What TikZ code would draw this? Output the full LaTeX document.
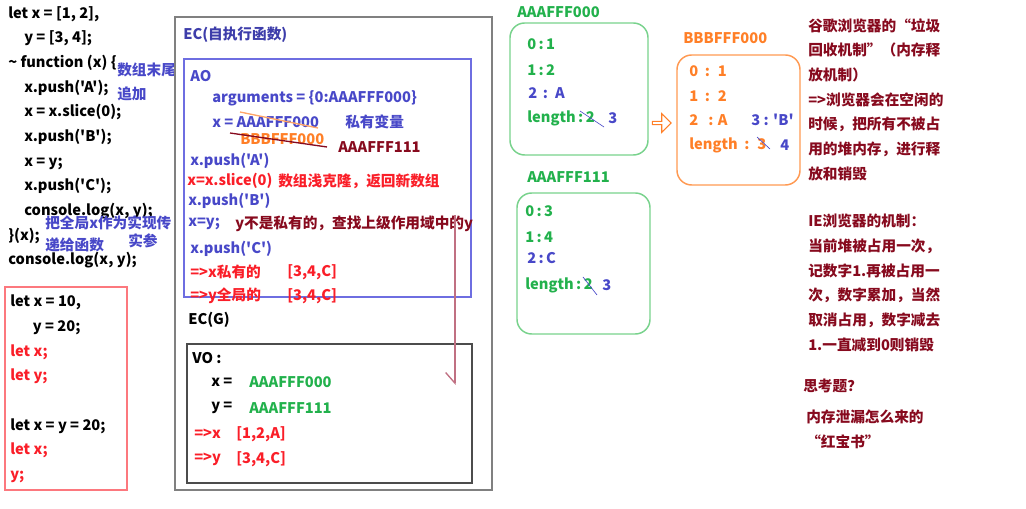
\documentclass[tikz,border=0pt]{standalone}
\usepackage{fontspec}
\newfontfamily\yh{Noto Sans CJK SC}
\usetikzlibrary{positioning,arrows.meta,shapes.arrows}
\definecolor{jsblue}{RGB}{72,72,200}
\definecolor{jsred}{RGB}{250,30,40}
\definecolor{jsdark}{RGB}{135,10,30}
\definecolor{jsgreen}{RGB}{34,177,76}
\definecolor{jsorange}{RGB}{255,127,39}
\definecolor{heapgreen}{RGB}{120,210,140}
\definecolor{aoline}{RGB}{110,110,225}
\definecolor{lookback}{RGB}{192,112,130}

\begin{document}
\begin{tikzpicture}[x=0.75pt,y=-0.75pt,
  font=\yh\bfseries\fontsize{11}{18.5}\selectfont,
  txt/.style={anchor=west,inner sep=0pt},
  blk/.style={anchor=north west,inner sep=0pt,align=left},
  heapbox/.style={draw=heapgreen,line width=1.1pt,rounded corners=11pt},
  strike/.style={jsblue,line width=0.5pt}]
\useasboundingbox (0,0) rectangle (1026,509);

% source code
\node [blk] (code) at (8,6) {let x = [1, 2],\\
\hspace*{12pt}y = [3, 4];\\
\textasciitilde\ function (x) \{\\
\hspace*{12pt}x.push('A');\\
\hspace*{12pt}x = x.slice(0);\\
\hspace*{12pt}x.push('B');\\
\hspace*{12pt}x = y;\\
\hspace*{12pt}x.push('C');\\
\hspace*{12pt}console.log(x, y);\\
\}(x);\\
console.log(x, y);};
\node [txt,jsblue] (pushnote) at (117,70) {数组末尾};
\node [txt,jsblue] (pushnote2) at (117,94) {追加};
\node [txt,jsblue] (argnote) at (45,223) {把全局x作为实现传};
\node [txt,jsblue] (argnote2) at (128,241) {实参};
\node [txt,jsblue] (argnote3) at (45,245) {递给函数};

% let examples
\draw [draw=jsred!60,line width=1.1pt] (5,287) rectangle (127,490);
\node [blk] (letcode) at (10,295) {let x = 10,\\
\hspace*{17pt}y = 20;\\
\textcolor{jsred}{let x;}\\
\textcolor{jsred}{let y;}\\
\mbox{}\\
let x = y = 20;\\
\textcolor{jsred}{let x;}\\
\textcolor{jsred}{y;}};

% execution contexts
\draw [draw=black!50,line width=1.1pt] (175,17) rectangle (492,490);
\node [txt,jsblue!85!black] (ectitle) at (183,35) {EC(自执行函数)};
\draw [draw=aoline,line width=0.8pt] (184,59) rectangle (471,297);
\node [txt,jsblue] (ao) at (190,76) {AO};
\node [txt,jsblue] (args) at (212,98) {arguments = \{0:AAAFFF000\}};
\node [txt,jsblue] (xaddr) at (212,122) {x = AAAFFF000};
\node [txt,jsblue] (xpriv) at (345,122) {私有变量};
\node [txt,jsorange] (xclone) at (240,139) {BBBFFF000};
\node [txt,jsdark] (xglobal) at (338,147) {AAAFFF111};
\draw [jsorange!70,line width=1pt] (240,112) -- (318,128);
\draw [jsdark,line width=1pt] (230,133) -- (327,147);
\node [txt,jsblue] (pusha) at (190,161) {x.push('A')};
\node [txt,jsred] (slice) at (187,181) {x=x.slice(0)};
\node [txt,jsred] (slicenote) at (278,181) {数组浅克隆，返回新数组};
\node [txt,jsblue] (pushb) at (188,201) {x.push('B')};
\node [txt,jsblue] (xisy) at (188,224) {x=y;};
\node [txt,jsdark] (lookup) at (235,224) {y不是私有的，查找上级作用域中的y};
\node [txt,jsblue] (pushc) at (190,249) {x.push('C')};
\node [txt,jsred] (xres) at (190,272) {=>x私有的};
\node [txt,jsred] (xval) at (287,272) {[3,4,C]};
\node [txt,jsred] (yres) at (190,296) {=>y全局的};
\node [txt,jsred] (yval) at (287,296) {[3,4,C]};
\node [txt] (ecg) at (188,320) {EC(G)};
\draw [draw=black!70,line width=1.1pt] (187,344) rectangle (472,483);
\node [txt] (vo) at (192,358) {VO :};
\node [txt] (vox) at (211,382) {x =};
\node [txt,jsgreen] (voxaddr) at (249,382) {AAAFFF000};
\node [txt] (voy) at (211,408) {y =};
\node [txt,jsgreen] (voyaddr) at (249,408) {AAAFFF111};
\node [txt,jsred] (gx) at (194,434) {=>x};
\node [txt,jsred] (gxval) at (236,434) {[1,2,A]};
\node [txt,jsred] (gy) at (194,459) {=>y};
\node [txt,jsred] (gyval) at (236,459) {[3,4,C]};
\coordinate (scopeup) at (455,215);
\coordinate (scopehit) at (455,385);
\draw [lookback,line width=1pt,-{Straight Barb[harpoon,swap,length=8pt,width=14pt]}] (scopeup) -- (scopehit);

% heap
\node [txt,jsgreen] (heapa) at (517,12) {AAAFFF000};
\draw [heapbox] (510,23) rectangle (648,155);
\node [txt,jsgreen] (a0) at (527,44) {0\,:\,1};
\node [txt,jsgreen] (a1) at (527,70) {1\,:\,2};
\node [txt,jsblue] (a2) at (528,93) {2 \,:\, A};
\node [txt,jsgreen] (alen) at (527,118) {length\,:\,2};
\draw [strike] (580,111) -- (604,127);
\node [txt,jsblue] (alen2) at (608,118) {3};

\node [single arrow,draw=jsorange,line width=0.8pt,minimum height=14pt,minimum width=14pt,
  single arrow head extend=2pt,inner sep=0pt] (copyto) at (661,123) {};

\node [txt,jsorange] (heapb) at (683,38) {BBBFFF000};
\draw [draw=jsorange!80,line width=1.1pt,rounded corners=11pt] (677,55) rectangle (800,185);
\node [txt,jsorange] (b0) at (689,71) {0 \ : \ 1};
\node [txt,jsorange] (b1) at (689,96) {1 \ : \ 2};
\node [txt,jsorange] (b2) at (689,120) {2 \ \ : A};
\node [txt,jsblue] (b3) at (751,120) {3 : 'B'};
\node [txt,jsorange] (blen) at (689,145) {length \ : \ 3};
\draw [strike] (757,137) -- (770,149);
\node [txt,jsblue] (blen2) at (780,145) {4};

\node [txt,jsgreen] (heapc) at (527,177) {AAAFFF111};
\draw [heapbox] (517,193) rectangle (650,334);
\node [txt,jsgreen] (c0) at (525,211) {0\,:\,3};
\node [txt,jsgreen] (c1) at (525,237) {1\,:\,4};
\node [txt,jsblue] (c2) at (527,258) {2\,:\,C};
\node [txt,jsgreen] (clen) at (525,285) {length\,:\,2};
\draw [strike] (583,277) -- (597,295);
\node [txt,jsblue] (clen2) at (602,285) {3};

% notes on gc
\node [blk,jsdark] (gcnote) at (808,18) {谷歌浏览器的“垃圾\\
回收机制”（内存释\\
放机制）\\
=>浏览器会在空闲的\\
时候，把所有不被占\\
用的堆内存，进行释\\
放和销毁};
\node [blk,jsdark] (ienote) at (808,214) {IE浏览器的机制：\\
当前堆被占用一次，\\
记数字1.再被占用一\\
次，数字累加，当然\\
取消占用，数字减去\\
1.一直减到0则销毁};
\node [txt,jsdark] (quiz) at (803,386) {思考题？};
\node [blk,jsdark] (leak) at (806,410) {内存泄漏怎么来的\\
“红宝书”};
\end{tikzpicture}
\end{document}
